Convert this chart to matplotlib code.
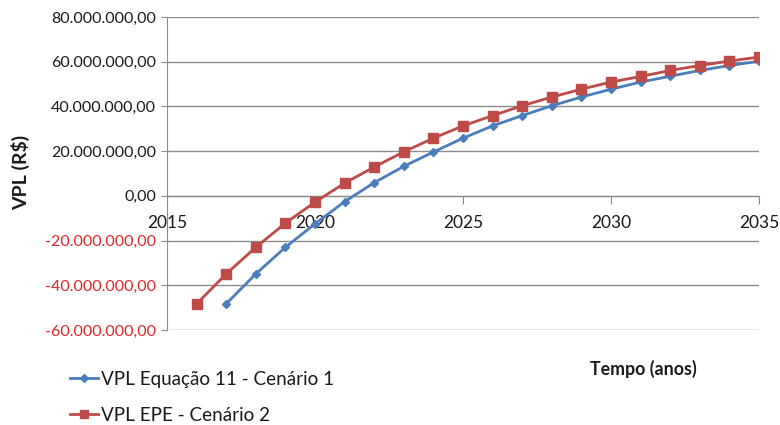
import matplotlib
matplotlib.use("Agg")
import matplotlib.pyplot as plt
from matplotlib.ticker import FuncFormatter, MultipleLocator

plt.rcParams['font.family'] = ['Lato', 'DejaVu Sans']

# VPL series (R$) per year
anos_c1 = list(range(2017, 2036))
vpl_c1 = [-48.3e6, -34.9e6, -23.0e6, -12.5e6, -2.6e6, 5.9e6, 13.2e6, 19.6e6,
          25.8e6, 31.3e6, 35.9e6, 40.3e6, 44.2e6, 47.7e6, 50.9e6, 53.5e6,
          56.1e6, 58.3e6, 60.2e6]

anos_c2 = list(range(2016, 2036))
vpl_c2 = [-48.3e6, -34.9e6, -23.0e6, -12.2e6, -2.8e6, 5.7e6, 12.9e6, 19.7e6,
          25.8e6, 31.3e6, 35.9e6, 40.3e6, 44.2e6, 47.7e6, 50.9e6, 53.4e6,
          56.1e6, 58.3e6, 60.3e6, 62.1e6]

nome_c1 = "VPL Equação 11 - Cenário 1"
nome_c2 = "VPL EPE - Cenário 2"
x_titulo = "Tempo (anos)"
y_titulo = "VPL (R$)"

azul = "#4A7EBB"
vermelho = "#BE4B48"
cinza = "#8C8C8C"
texto = "#1a1a1a"

fig = plt.figure(figsize=(7.8, 4.25), dpi=100)
ax = fig.add_axes([167/780, 1-330/425, (759-167)/780, (330-17)/425])

l1, = ax.plot(anos_c1, vpl_c1, color=azul, lw=2.0, marker="D", ms=4.5,
              mec=azul, mfc=azul, zorder=3)
l2, = ax.plot(anos_c2, vpl_c2, color=vermelho, lw=2.0, marker="s", ms=6.5,
              mec=vermelho, mfc=vermelho, zorder=3)

ax.set_xlim(2015, 2035)
ax.set_ylim(-60e6, 80e6)
ax.xaxis.set_major_locator(MultipleLocator(5))
ax.yaxis.set_major_locator(MultipleLocator(20e6))


def fmt_brl(v, pos=None):
    s = f"{abs(v):,.2f}".replace(",", "X").replace(".", ",").replace("X", ".")
    return ("-" if v < 0 else "") + s


ax.yaxis.set_major_formatter(FuncFormatter(fmt_brl))
ax.xaxis.set_major_formatter(FuncFormatter(lambda v, p: f"{int(v)}"))

ax.grid(axis="y", color=cinza, lw=1.0)
ax.set_axisbelow(True)
for s in ("top", "right"):
    ax.spines[s].set_visible(False)
ax.spines["left"].set_color(cinza)
ax.spines["bottom"].set_color(cinza)
ax.spines["bottom"].set_position(("data", 0))
ax.spines["bottom"].set_zorder(1)

ax.tick_params(axis="y", length=4, color=cinza, labelsize=11.5, pad=4,
               labelcolor=texto)
ax.tick_params(axis="x", length=6, color=cinza, labelsize=12.5, pad=8,
               labelcolor=texto, direction="out")

for lbl, v in zip(ax.get_yticklabels(), ax.get_yticks()):
    if v < 0:
        lbl.set_color("#E2262B")

fig.text(21/780, 1-172/425, y_titulo, rotation=90, ha="center", va="center",
         fontsize=14, fontweight="bold", color=texto)
fig.text(643/780, 1-369/425, x_titulo, ha="center", va="center",
         fontsize=12.8, fontweight="bold", color=texto)

fig.legend([l1, l2], [nome_c1, nome_c2], loc="upper left",
           bbox_to_anchor=(70/780, 1-371/425), frameon=False, fontsize=13.6,
           handlelength=1.5, handletextpad=0.15, labelspacing=1.0,
           borderaxespad=0, borderpad=0, labelcolor=texto,
           markerscale=0.85)

fig.savefig("out.png", dpi=100)
